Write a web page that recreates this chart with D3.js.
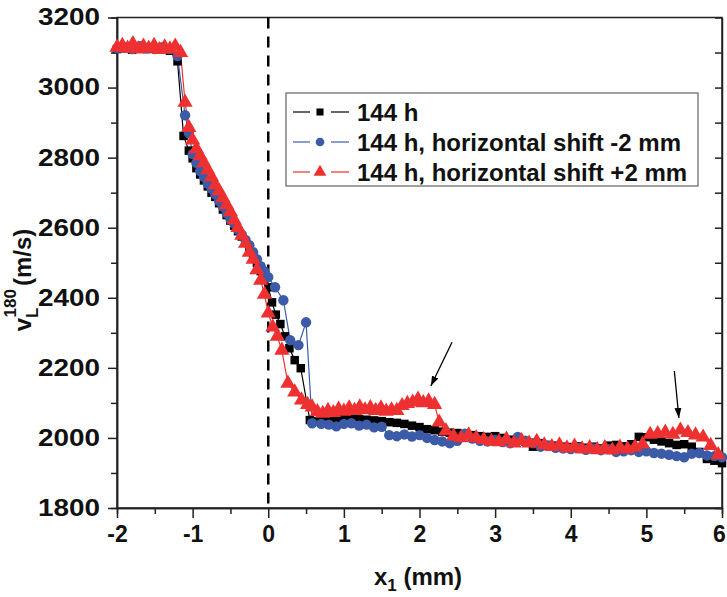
<!DOCTYPE html>
<html>
<head>
<meta charset="utf-8">
<script src="https://cdn.jsdelivr.net/npm/d3@7"></script>
<style>
  body { margin: 0; background: #fff; }
  svg { display: block; }
  text { font-family: "Liberation Sans", Arial, sans-serif; font-weight: bold; }
</style>
</head>
<body>
<svg id="chart" width="727" height="597"></svg>
<script>
// series: [x1 (mm), v (m/s)]
var black144 = [
  [-2.0, 3110], [-1.9, 3112], [-1.8, 3108], [-1.7, 3115], [-1.6, 3110], [-1.5, 3112],
  [-1.4, 3108], [-1.3, 3105], [-1.2, 3075], [-1.12, 2862], [-1.05, 2820], [-1.0, 2798],
  [-0.95, 2770], [-0.9, 2752], [-0.85, 2735], [-0.8, 2718], [-0.75, 2700], [-0.7, 2688],
  [-0.65, 2670], [-0.6, 2652], [-0.55, 2636], [-0.5, 2620], [-0.45, 2606], [-0.4, 2590],
  [-0.35, 2575], [-0.3, 2560], [-0.25, 2543], [-0.2, 2522], [-0.15, 2500], [-0.1, 2476],
  [-0.05, 2455], [0.0, 2430], [0.05, 2387], [0.1, 2352], [0.16, 2325], [0.22, 2290],
  [0.28, 2256], [0.35, 2222], [0.43, 2199], [0.55, 2051], [0.6, 2048], [0.7, 2052],
  [0.8, 2055], [0.9, 2053], [1.0, 2057], [1.1, 2058], [1.2, 2054], [1.3, 2052],
  [1.4, 2050], [1.5, 2048], [1.6, 2045], [1.7, 2043], [1.8, 2040], [1.9, 2035],
  [2.0, 2031], [2.1, 2025], [2.2, 2022], [2.3, 2018], [2.4, 2015], [2.5, 2014],
  [2.6, 2010], [2.7, 2008], [2.8, 2005], [2.9, 2003], [3.0, 2005], [3.1, 2000],
  [3.2, 1995], [3.3, 1992], [3.4, 1990], [3.5, 1975], [3.6, 1985], [3.7, 1980],
  [3.8, 1978], [3.9, 1975], [4.0, 1974], [4.1, 1976], [4.2, 1972], [4.3, 1975],
  [4.4, 1970], [4.5, 1978], [4.6, 1980], [4.7, 1976], [4.8, 1982], [4.9, 2003],
  [5.0, 2002], [5.1, 1995], [5.2, 1990], [5.3, 1985], [5.4, 1980], [5.5, 1982],
  [5.6, 1975], [5.7, 1960], [5.8, 1940], [5.9, 1935], [6.0, 1928]
];
var bluem2 = [
  [-2.0, 3112], [-1.9, 3115], [-1.8, 3110], [-1.7, 3118], [-1.6, 3112], [-1.5, 3110],
  [-1.4, 3115], [-1.3, 3110], [-1.2, 3090], [-1.1, 2921], [-1.05, 2870], [-1.0, 2810],
  [-0.95, 2785], [-0.9, 2762], [-0.85, 2745], [-0.8, 2726], [-0.75, 2712], [-0.7, 2695],
  [-0.65, 2676], [-0.6, 2660], [-0.55, 2641], [-0.5, 2625], [-0.45, 2612], [-0.4, 2595],
  [-0.35, 2580], [-0.3, 2565], [-0.25, 2550], [-0.2, 2530], [-0.15, 2510], [-0.1, 2490],
  [-0.05, 2475], [0.0, 2459], [0.09, 2430], [0.2, 2393], [0.29, 2279], [0.4, 2265],
  [0.5, 2330], [0.58, 2042], [0.7, 2040], [0.8, 2038], [0.9, 2033], [1.0, 2040],
  [1.1, 2042], [1.2, 2035], [1.3, 2038], [1.4, 2030], [1.5, 2032], [1.6, 2008],
  [1.7, 2005], [1.8, 2010], [1.9, 2004], [2.0, 2008], [2.1, 2000], [2.2, 1994],
  [2.3, 1990], [2.4, 1985], [2.5, 1992], [2.6, 2012], [2.7, 1998], [2.8, 1992],
  [2.9, 1990], [3.0, 1994], [3.1, 1988], [3.2, 1985], [3.3, 2003], [3.4, 1992],
  [3.5, 1985], [3.6, 1975], [3.7, 1978], [3.8, 1972], [3.9, 1970], [4.0, 1968],
  [4.1, 1972], [4.2, 1966], [4.3, 1970], [4.4, 1965], [4.5, 1968], [4.6, 1960],
  [4.7, 1962], [4.8, 1965], [4.9, 1960], [5.0, 1962], [5.1, 1957], [5.2, 1955],
  [5.3, 1952], [5.4, 1948], [5.5, 1945], [5.6, 1955], [5.7, 1957], [5.8, 1950],
  [5.9, 1948], [6.0, 1945]
];
var redp2 = [
  [-2.0, 3115], [-1.93, 3120], [-1.86, 3112], [-1.79, 3125], [-1.72, 3110], [-1.65, 3118],
  [-1.58, 3112], [-1.51, 3120], [-1.44, 3108], [-1.37, 3116], [-1.3, 3110], [-1.23, 3118],
  [-1.16, 3100], [-1.1, 2958], [-1.05, 2886], [-1.0, 2850], [-0.95, 2825], [-0.9, 2805],
  [-0.85, 2785], [-0.8, 2765], [-0.75, 2745], [-0.7, 2722], [-0.65, 2705], [-0.6, 2685],
  [-0.55, 2665], [-0.5, 2645], [-0.45, 2622], [-0.4, 2600], [-0.35, 2578], [-0.3, 2555],
  [-0.25, 2530], [-0.2, 2510], [-0.15, 2480], [-0.1, 2450], [-0.05, 2410], [0.0, 2356],
  [0.06, 2316], [0.12, 2290], [0.18, 2250], [0.26, 2156], [0.35, 2131], [0.44, 2108],
  [0.52, 2095], [0.58, 2088], [0.65, 2075], [0.72, 2070], [0.79, 2078], [0.86, 2072],
  [0.93, 2082], [1.0, 2076], [1.07, 2085], [1.14, 2078], [1.21, 2088], [1.28, 2080],
  [1.35, 2086], [1.42, 2078], [1.49, 2085], [1.56, 2076], [1.63, 2080], [1.7, 2078],
  [1.77, 2092], [1.84, 2098], [1.91, 2102], [1.98, 2110], [2.05, 2100], [2.12, 2105],
  [2.2, 2095], [2.26, 2045], [2.35, 2020], [2.45, 2005], [2.55, 2000], [2.65, 2008],
  [2.75, 2000], [2.85, 1995], [2.95, 1990], [3.05, 1989], [3.15, 1996], [3.25, 1985],
  [3.35, 1992], [3.45, 1985], [3.55, 1990], [3.65, 1980], [3.75, 1975], [3.85, 1980],
  [3.95, 1971], [4.05, 1976], [4.15, 1968], [4.25, 1972], [4.35, 1966], [4.45, 1972],
  [4.55, 1965], [4.65, 1973], [4.75, 1968], [4.85, 1974], [4.95, 1982], [5.05, 2010],
  [5.15, 2012], [5.25, 2016], [5.35, 2010], [5.45, 2022], [5.55, 2015], [5.65, 2008],
  [5.75, 2002], [5.85, 1978], [5.95, 1952]
];

var seriesNames = ["144 h", "144 h, horizontal shift -2 mm", "144 h, horizontal shift +2 mm"];
var seriesColors = ["#000000", "#3b5ba8", "#ee3030"];
var xMajor = [-2, -1, 0, 1, 2, 3, 4, 5, 6];
var xMinor = [-1.5, -0.5, 0.5, 1.5, 2.5, 3.5, 4.5, 5.5];
var yMajor = [1800, 2000, 2200, 2400, 2600, 2800, 3000, 3200];
var yMinor = [1900, 2100, 2300, 2500, 2700, 2900, 3100];
// arrows: [tail x, tail v, tip x, tip v]
var arrows = [[2.43, 2273, 2.15, 2148], [5.37, 2191, 5.43, 2057]];

var svg = d3.select("#chart");
var mLeft = 117, mRight = 722, mTop = 17.5, mBottom = 508;

var x = d3.scaleLinear().domain([-2, 6]).range([mLeft, mRight]);
var y = d3.scaleLinear().domain([1800, 3200]).range([mBottom, mTop]);
var fmt = function (d) { return String(d); };

// frame
svg.append("rect")
  .attr("x", mLeft).attr("y", mTop)
  .attr("width", mRight - mLeft).attr("height", mBottom - mTop)
  .attr("fill", "none").attr("stroke", "#222").attr("stroke-width", 1.5);

// zero line
svg.append("line")
  .attr("x1", x(0)).attr("x2", x(0))
  .attr("y1", mTop).attr("y2", mBottom)
  .attr("stroke", "#000").attr("stroke-width", 2.5)
  .attr("stroke-dasharray", "11,8");

// axes
var gx = svg.append("g").attr("transform", "translate(0," + mBottom + ")");
gx.call(d3.axisBottom(x).tickValues(xMajor).tickSize(10).tickSizeOuter(0).tickPadding(8)
  .tickFormat(fmt));
gx.append("g").call(d3.axisBottom(x).tickValues(xMinor).tickSize(6).tickFormat(""));
gx.selectAll(".tick text").filter(function (d) { return d === 6; }).attr("dx", -3);

var gy = svg.append("g").attr("transform", "translate(" + mLeft + ",0)");
gy.call(d3.axisLeft(y).tickValues(yMajor).tickSize(9).tickSizeOuter(0).tickPadding(8)
  .tickFormat(fmt));
gy.append("g").call(d3.axisLeft(y).tickValues(yMinor).tickSize(6).tickFormat(""));

var gr = svg.append("g").attr("transform", "translate(" + mRight + ",0)");
gr.call(d3.axisLeft(y).tickValues(yMajor.concat(yMinor)).tickSize(7).tickSizeOuter(0).tickFormat(""));

svg.selectAll(".domain").attr("stroke", "#222").attr("stroke-width", 1.5);
svg.selectAll(".tick line").attr("stroke", "#222").attr("stroke-width", 1.5);
svg.selectAll(".tick text").attr("fill", "#111").style("font-size", "23px")
  .style("font-family", "'Liberation Sans', Arial, sans-serif").style("font-weight", "bold");
// y labels in the source are drawn wider
gy.selectAll(".tick text").attr("textLength", 62).attr("lengthAdjust", "spacingAndGlyphs");

// series
var line = d3.line().x(function (d) { return x(d[0]); }).y(function (d) { return y(d[1]); });
var allSeries = [black144, bluem2, redp2];
var symbols = [d3.symbolSquare, d3.symbolCircle, d3.symbolTriangle];
var symSizes = [72, 85, 100];

allSeries.forEach(function (data, i) {
  svg.append("path").datum(data)
    .attr("d", line).attr("fill", "none")
    .attr("stroke", seriesColors[i]).attr("stroke-width", 1.2);
});
allSeries.forEach(function (data, i) {
  svg.append("g").selectAll("path").data(data).join("path")
    .attr("transform", function (d) { return "translate(" + x(d[0]) + "," + y(d[1]) + ")"; })
    .attr("d", d3.symbol().type(symbols[i]).size(symSizes[i]))
    .attr("fill", seriesColors[i]);
});

// arrows
svg.append("defs").append("marker")
  .attr("id", "ah").attr("viewBox", "0 0 10 10").attr("refX", 10).attr("refY", 5)
  .attr("markerWidth", 10).attr("markerHeight", 10).attr("markerUnits", "userSpaceOnUse")
  .attr("orient", "auto")
  .append("path").attr("d", "M0,1.5L10,5L0,8.5Z").attr("fill", "#000");
svg.selectAll(".arrow").data(arrows).join("line")
  .attr("x1", function (d) { return x(d[0]); }).attr("y1", function (d) { return y(d[1]); })
  .attr("x2", function (d) { return x(d[2]); }).attr("y2", function (d) { return y(d[3]); })
  .attr("stroke", "#000").attr("stroke-width", 1.3).attr("marker-end", "url(#ah)");

// legend
var lg = svg.append("g");
lg.append("rect").attr("x", 286).attr("y", 93).attr("width", 412).attr("height", 93)
  .attr("fill", "#fff").attr("stroke", "#444").attr("stroke-width", 1);
seriesNames.forEach(function (name, i) {
  var ly = 112 + i * 30;
  lg.append("line").attr("x1", 293).attr("x2", 310).attr("y1", ly).attr("y2", ly)
    .attr("stroke", seriesColors[i]).attr("stroke-width", 1.2);
  lg.append("line").attr("x1", 331).attr("x2", 349).attr("y1", ly).attr("y2", ly)
    .attr("stroke", seriesColors[i]).attr("stroke-width", 1.2);
  lg.append("path").attr("transform", "translate(320," + ly + ")")
    .attr("d", d3.symbol().type(symbols[i]).size(symSizes[i] * 0.7))
    .attr("fill", seriesColors[i]);
  lg.append("text").attr("x", 357).attr("y", ly + 8.5)
    .style("font-size", "24px").attr("fill", "#111").text(name);
});

// axis titles
var xt = svg.append("text").attr("x", 418).attr("y", 585).attr("text-anchor", "middle")
  .style("font-size", "24px").attr("fill", "#111");
xt.append("tspan").text("x");
xt.append("tspan").attr("dy", 6).style("font-size", "17px").text("1");
xt.append("tspan").attr("dy", -6).text(" (mm)");

var yt = svg.append("text").attr("transform", "translate(31,280) rotate(-90)")
  .attr("text-anchor", "middle").style("font-size", "24px").attr("fill", "#111");
yt.append("tspan").text("v");
yt.append("tspan").attr("dy", 7).style("font-size", "17px").text("L");
yt.append("tspan").attr("dx", -10).attr("dy", -22).style("font-size", "17px").text("180");
yt.append("tspan").attr("dx", 3).attr("dy", 15).text("(m/s)");
</script>
</body>
</html>
